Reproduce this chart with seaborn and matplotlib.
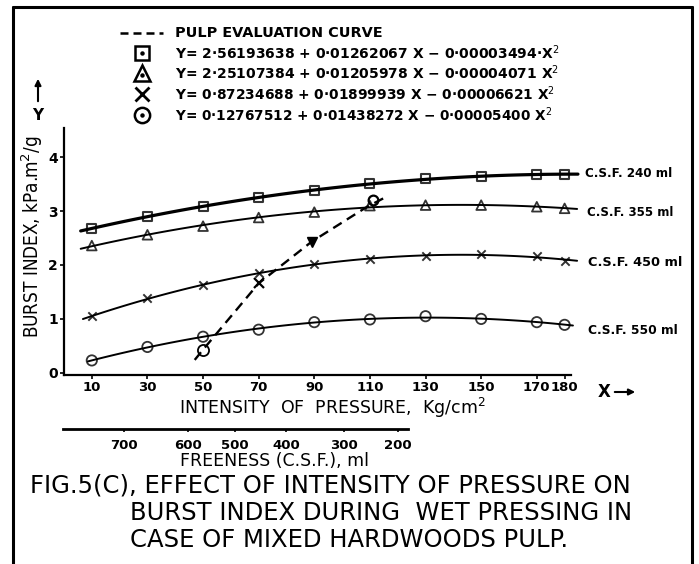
import numpy as np
import pandas as pd
import matplotlib
matplotlib.use("Agg")
import matplotlib.pyplot as plt
import seaborn as sns
from matplotlib.lines import Line2D
from matplotlib import font_manager as fm

# ---------------- data ----------------
pressure = [10, 30, 50, 70, 90, 110, 130, 150, 170, 180]
burst_csf240 = [2.68, 2.90, 3.08, 3.25, 3.38, 3.51, 3.60, 3.64, 3.68, 3.68]
burst_csf355 = [2.36, 2.56, 2.72, 2.88, 2.98, 3.10, 3.11, 3.11, 3.08, 3.05]
burst_csf450 = [1.05, 1.38, 1.62, 1.86, 2.01, 2.11, 2.16, 2.21, 2.16, 2.08]
burst_csf550 = [0.23, 0.48, 0.67, 0.80, 0.94, 0.99, 1.05, 1.00, 0.94, 0.89]
series_labels = ["C.S.F. 240 ml", "C.S.F. 355 ml", "C.S.F. 450 ml", "C.S.F. 550 ml"]
equations = [
    "Y= 2·56193638 + 0·01262067 X \u2212 0·00003494·X$^2$",
    "Y= 2·25107384 + 0·01205978 X \u2212 0·00004071 X$^2$",
    "Y= 0·87234688 + 0·01899939 X \u2212 0·00006621 X$^2$",
    "Y= 0·12767512 + 0·01438272 X \u2212 0·00005400 X$^2$",
]
pulp_x = [47, 50, 70, 89, 109, 115]
pulp_y = [0.24, 0.43, 1.66, 2.43, 3.08, 3.24]
pulp_mark_x = [50, 70, 89, 111]
pulp_mark_y = [0.43, 1.66, 2.43, 3.20]
x_ticks = [10, 30, 50, 70, 90, 110, 130, 150, 170, 180]
y_ticks = [0, 1, 2, 3, 4]
freeness_labels = [700, 600, 500, 400, 300, 200]
freeness_pos = [21.5, 44.5, 61.4, 79.8, 100.7, 120.1]

df = pd.DataFrame({"pressure": pressure, "csf240": burst_csf240, "csf355": burst_csf355,
                   "csf450": burst_csf450, "csf550": burst_csf550})

# ---------------- style ----------------
sns.set_style("ticks")
plt.rcParams["font.family"] = ["DejaVu Sans"]
plt.rcParams["axes.linewidth"] = 1.6
for k in ["text.color", "axes.labelcolor", "xtick.color", "ytick.color", "axes.edgecolor"]:
    plt.rcParams[k] = "black"

W, H = 699, 564
fig = plt.figure(figsize=(W / 100, H / 100), dpi=100)
renderer = fig.canvas.get_renderer()

names = {f.name for f in fm.fontManager.ttflist}
if "Liberation Sans Narrow" in names:
    narrow_kw = dict(family=["Liberation Sans Narrow"])
else:
    narrow_kw = dict(family=["DejaVu Sans"], stretch="condensed")


def fx(x):
    return x / W


def fy(y):
    return 1 - y / H


def fit_text(s, x0, x1, yc, fs=10, fsmax=None, center=True, **kw):
    t = fig.text(fx(x0), fy(yc), s, ha="left", va="center", fontsize=fs, **kw)
    w = t.get_window_extent(renderer).width
    new = fs * (x1 - x0) / w
    if fsmax is not None and new > fsmax:
        new = fsmax
        t.set_fontsize(new)
        if center:
            w2 = t.get_window_extent(renderer).width
            t.set_x(fx((x0 + x1) / 2 - w2 / 2))
    else:
        t.set_fontsize(new)
    return t


# ---------------- main axes ----------------
ax = fig.add_axes([fx(64), fy(375), (571 - 64) / W, (375 - 128) / H])
ylim = (-0.04, 4.54)

specs = [
    ("csf240", "s", dict(facecolors="none", edgecolors="k", s=42, linewidths=1.5), 2.3, (6.0, 184.8)),
    ("csf355", "^", dict(facecolors="none", edgecolors="k", s=48, linewidths=1.3), 1.4, (6.0, 184.5)),
    ("csf450", "x", dict(s=36, linewidths=1.4), 1.4, (6.8, 184.5)),
    ("csf550", "o", dict(facecolors="none", edgecolors="k", s=55, linewidths=1.3), 1.4, (8.6, 183.0)),
]
for col, mk, skw, lw, span in specs:
    ax.set_xlim(*span)
    ax.set_ylim(*ylim)
    sns.regplot(data=df, x="pressure", y=col, ax=ax, order=2, ci=None, truncate=False,
                marker=mk, color="black", scatter_kws=dict(skw, clip_on=False, zorder=3),
                line_kws=dict(lw=lw, clip_on=False, zorder=2))

ax.set_xlim(0, 182.3)
ax.set_ylim(*ylim)

# pulp evaluation curve
ax.plot(pulp_x, pulp_y, color="k", lw=1.7, ls=(0, (4.2, 2.6)), zorder=4)
ax.plot(pulp_mark_x[0], pulp_mark_y[0], marker="o", ms=8, mfc="none", mec="k", mew=1.3, zorder=5)
ax.plot(pulp_mark_x[1], pulp_mark_y[1], marker="x", ms=7, mec="k", mew=1.6, zorder=5)
ax.plot(pulp_mark_x[2], pulp_mark_y[2], marker="v", ms=7, mfc="k", mec="k", zorder=5)
ax.plot(pulp_mark_x[3], pulp_mark_y[3], marker="o", ms=7, mfc="none", mec="k", mew=1.6, zorder=5)

ax.set_xticks(x_ticks)
ax.set_yticks(y_ticks)
ax.tick_params(axis="both", direction="out", length=3, width=1.2, labelsize=9.5, pad=1.5, colors="k")
ax.tick_params(axis="y", pad=1.5, labelsize=10)
for lab in ax.get_xticklabels() + ax.get_yticklabels():
    lab.set_fontweight("bold")
ax.set_xlabel("")
ax.set_ylabel("")
sns.despine(ax=ax)
ax.patch.set_visible(False)

# curve labels at right
label_pos = [(585, 672, 173), (587, 673, 212), (588, 682, 262), (588, 677, 330)]
for lab, (x0, x1, yc) in zip(series_labels, label_pos):
    fit_text(lab, x0, x1, yc, fs=9, weight="bold")

# axis titles
fit_text("INTENSITY  OF  PRESSURE,  Kg/cm$^2$", 145, 520, 408, fs=12, fsmax=12.5)
yl = fig.text(fx(32), fy(237), "BURST INDEX, kPa.m$^2$/g", rotation=90, ha="center",
              va="center", fontsize=14, **narrow_kw)
yl.set_fontsize(14 * (340 - 136) / yl.get_window_extent(renderer).height)

# axis arrows
fig.text(fx(604), fy(392), "X", ha="center", va="center", fontsize=12, weight="bold")
ax.annotate("", xy=(fx(638), fy(392)), xytext=(fx(612), fy(392)), xycoords="figure fraction",
            arrowprops=dict(arrowstyle="-|>", lw=1.5, color="k", mutation_scale=9))
fig.text(fx(38), fy(115), "Y", ha="center", va="center", fontsize=11, weight="bold")
ax.annotate("", xy=(fx(38), fy(76)), xytext=(fx(38), fy(104)), xycoords="figure fraction",
            arrowprops=dict(arrowstyle="-|>", lw=1.5, color="k", mutation_scale=9))

# ---------------- freeness axis ----------------
ax2 = fig.add_axes([fx(63), fy(429), (408 - 63) / W, 0.0005])
ax2.set_xlim(-0.43, 123.7)
ax2.set_xticks(freeness_pos)
ax2.set_xticklabels([str(v) for v in freeness_labels])
ax2.set_yticks([])
for sp in ["left", "right", "top"]:
    ax2.spines[sp].set_visible(False)
ax2.spines["bottom"].set_linewidth(2.0)
ax2.patch.set_visible(False)
ax2.tick_params(axis="x", direction="out", length=2.5, width=1.2, labelsize=9.5, pad=5)
for lab in ax2.get_xticklabels():
    lab.set_fontweight("bold")
fit_text("FREENESS (C.S.F.), ml", 180, 368, 461, fs=10)

# ---------------- legend block ----------------
fig.add_artist(Line2D([fx(120), fx(163)], [fy(33), fy(33)], transform=fig.transFigure,
                      color="k", lw=1.8, ls=(0, (3.2, 2.0))))
fit_text("PULP EVALUATION CURVE", 175, 381, 33, fs=9, weight="bold")
leg_rows = [53, 73, 94, 115]
leg_ends = [560, 561, 557, 554]
leg_marks = ["s", "^", "x", "o"]
for eq, yc, x1, mk in zip(equations, leg_rows, leg_ends, leg_marks):
    if mk == "x":
        fig.add_artist(Line2D([fx(142)], [fy(yc)], transform=fig.transFigure, marker="x",
                              ms=10, mec="k", mew=2.0))
    else:
        fig.add_artist(Line2D([fx(142)], [fy(yc)], transform=fig.transFigure, marker=mk,
                              ms=11 if mk != "s" else 10, mfc="none", mec="k", mew=1.8))
        fig.add_artist(Line2D([fx(142)], [fy(yc + (1.5 if mk == "^" else 0))],
                              transform=fig.transFigure, marker="o", ms=2.2, mfc="k", mec="k"))
    fit_text(eq, 175, x1, yc, fs=9, weight="bold")

# ---------------- caption ----------------
cap_kw = dict(family=["DejaVu Sans"])
fit_text("FIG.5(C), EFFECT OF INTENSITY OF PRESSURE ON", 30, 675, 486, fs=16, fsmax=17.5,
         center=False, **cap_kw)
fit_text("BURST INDEX DURING  WET PRESSING IN", 130, 677, 513, fs=16, fsmax=17.5,
         center=False, **cap_kw)
fit_text("CASE OF MIXED HARDWOODS PULP.", 130, 601, 540, fs=16, fsmax=17.5,
         center=False, **cap_kw)

# ---------------- frame ----------------
for xs, ys in [((13, 692), (7, 7)), ((13, 13), (7, 564)), ((692, 692), (7, 564))]:
    fig.add_artist(Line2D([fx(xs[0]), fx(xs[1])], [fy(ys[0]), fy(ys[1])],
                          transform=fig.transFigure, color="k", lw=2.2))

fig.savefig("out.png", dpi=100)
